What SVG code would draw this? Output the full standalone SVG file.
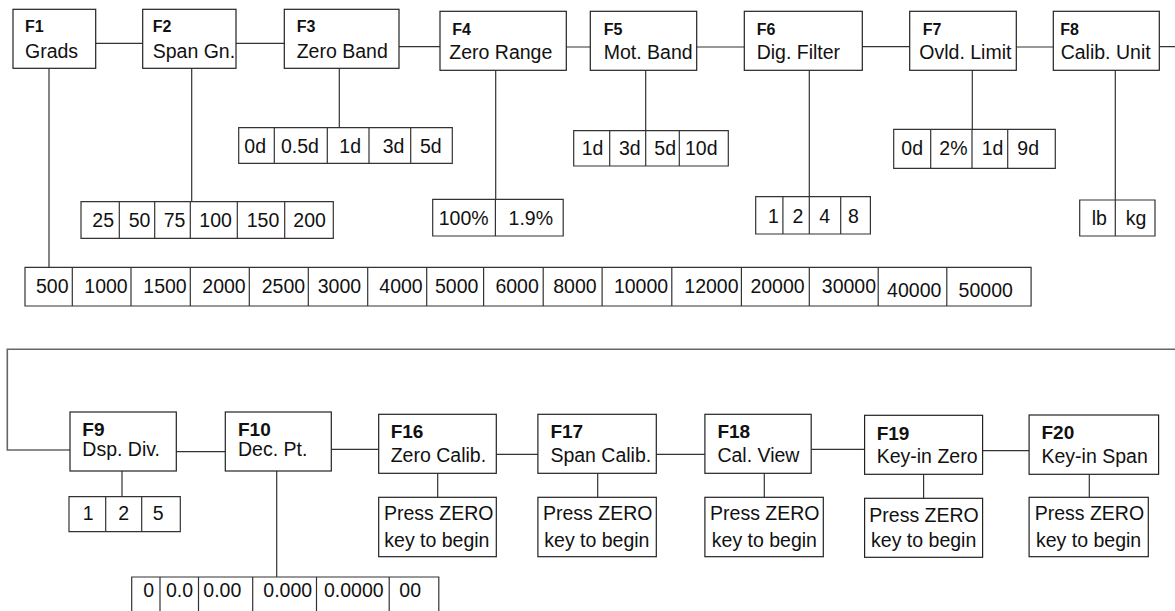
<svg xmlns="http://www.w3.org/2000/svg" width="1175" height="611" viewBox="0 0 1175 611">
<style>
.bg{fill:#fff}
.box{fill:#fff;stroke:#222;stroke-width:1.2}
.cell{fill:none;stroke:#333;stroke-width:1.2}
.ln{fill:none;stroke:#333;stroke-width:1.2}
.rl{fill:none;stroke:#666;stroke-width:1.6}
text{font-family:"Liberation Sans",Arial,sans-serif;fill:#111}
.fl{font-size:16px;font-weight:bold}
.fb{font-size:19px;font-weight:bold}
.nm{font-size:19.5px}
.op{font-size:19.5px}
</style>
<rect class="bg" x="0" y="0" width="1175" height="611"/>
<g id="connectors">
<path class="ln" d="M95.7 43.3H142.7M236 43.3H284.3M399 46.7H440M566.3 47H590.3M696.7 47H744.3M862.3 46.7H909.7M1016.3 47H1053.3M1159.3 46.7H1175"/>
<path class="ln" d="M49 68.3V267.3M191.7 68.3V201.7M339.3 68.3V127.7M495.7 70.3V199.3M645.7 70.3V130.7M809.3 70.3V196.7M972.3 70.3V129.3M1115.3 70.3V200"/>
<path class="rl" d="M1175 349.3H7.3V450H70"/>
<path class="ln" d="M176.3 451.7H225.3M331.3 449.3H378.7M496.3 454.3H537.9M656.3 454.3H704.9M811.2 449.3H864.6M982.6 450.7H1029.1"/>
<path class="ln" d="M122 471V496.7M276.7 471V577M437.7 473.3V497.3M597.7 473.3V497.3M764.3 473.3V497.3M923.6 474.3V498.3M1089.3 474.3V497.3"/>
</g>
<g id="F1"><rect class="box" x="13" y="9.3" width="82.7" height="59"/><text class="fl" x="25" y="32.3">F1</text><text class="nm" x="25" y="57.7">Grads</text></g>
<g id="F2"><rect class="box" x="142.7" y="9.3" width="93.3" height="59"/><text class="fl" x="152.7" y="32.3">F2</text><text class="nm" x="152.7" y="57.7">Span Gn.</text></g>
<g id="F3"><rect class="box" x="284.3" y="9.3" width="114.7" height="59"/><text class="fl" x="296.7" y="32.3">F3</text><text class="nm" x="296.7" y="57.7">Zero Band</text></g>
<g id="F4"><rect class="box" x="440" y="11.3" width="126.3" height="59"/><text class="fl" x="452.3" y="34.7">F4</text><text class="nm" x="449.3" y="59.3">Zero Range</text></g>
<g id="F5"><rect class="box" x="590.3" y="11.3" width="106.4" height="59"/><text class="fl" x="603.7" y="34.7">F5</text><text class="nm" x="603.7" y="59.3">Mot. Band</text></g>
<g id="F6"><rect class="box" x="744.3" y="11.3" width="118" height="59"/><text class="fl" x="756.7" y="34.7">F6</text><text class="nm" x="756.7" y="59.3">Dig. Filter</text></g>
<g id="F7"><rect class="box" x="909.7" y="11.3" width="106.6" height="59"/><text class="fl" x="922.7" y="34.7">F7</text><text class="nm" x="919.3" y="59.3">Ovld. Limit</text></g>
<g id="F8"><rect class="box" x="1053.3" y="11.3" width="106" height="59"/><text class="fl" x="1060.3" y="34.7">F8</text><text class="nm" x="1060.7" y="59.3">Calib. Unit</text></g>

<g id="F1-options">
<path class="cell" d="M25 267.3H1031.1V306H25ZM72.3 267.3V306M131 267.3V306M190.3 267.3V306M249.3 267.3V306M308.3 267.3V306M367.7 267.3V306M426.7 267.3V306M483.6 267.3V306M543.2 267.3V306M602.1 267.3V306M671.8 267.3V306M741.4 267.3V306M809.3 267.3V306M878.2 267.3V306M946.8 267.3V306"/>
<text class="op" y="293.3"><tspan x="36">500</tspan><tspan x="84.3">1000</tspan><tspan x="143.3">1500</tspan><tspan x="202.3">2000</tspan><tspan x="261.7">2500</tspan><tspan x="317.7">3000</tspan><tspan x="379.3">4000</tspan><tspan x="435">5000</tspan><tspan x="495.4">6000</tspan><tspan x="553.2">8000</tspan><tspan x="613.9">10000</tspan><tspan x="684.3">12000</tspan><tspan x="750.4">20000</tspan><tspan x="821.8">30000</tspan></text>
<text class="op" y="297.3"><tspan x="887.1">40000</tspan><tspan x="958.6">50000</tspan></text>
</g>
<g id="F2-options">
<path class="cell" d="M81 201.7H333.3V238.3H81ZM119.3 201.7V238.3M154.7 201.7V238.3M190.3 201.7V238.3M237.3 201.7V238.3M284.7 201.7V238.3"/>
<text class="op" y="226.7"><tspan x="92.3">25</tspan><tspan x="128.7">50</tspan><tspan x="163.7">75</tspan><tspan x="199.3">100</tspan><tspan x="246.7">150</tspan><tspan x="293.3">200</tspan></text>
</g>
<g id="F3-options">
<path class="cell" d="M238.7 127.7H452.3V163.3H238.7ZM274.3 127.7V163.3M327.3 127.7V163.3M369 127.7V163.3M410.7 127.7V163.3"/>
<text class="op" y="152.7"><tspan x="244.3">0d</tspan><tspan x="281">0.5d</tspan><tspan x="339.3">1d</tspan><tspan x="382.7">3d</tspan><tspan x="420">5d</tspan></text>
</g>
<g id="F4-options">
<path class="cell" d="M432.7 199.3H563.2V236H432.7ZM495.4 199.3V236"/>
<text class="op" y="225"><tspan x="438.7">100%</tspan><tspan x="508.6">1.9%</tspan></text>
</g>
<g id="F5-options">
<path class="cell" d="M573.7 130.7H728.3V166H573.7ZM609.7 130.7V166M645.7 130.7V166M679.3 130.7V166"/>
<text class="op" y="155"><tspan x="581.7">1d</tspan><tspan x="619">3d</tspan><tspan x="654.3">5d</tspan><tspan x="685">10d</tspan></text>
</g>
<g id="F6-options">
<path class="cell" d="M755.7 196.7H870.4V234H755.7ZM782.9 196.7V234M809.3 196.7V234M840.7 196.7V234"/>
<text class="op" y="223.3"><tspan x="767.9">1</tspan><tspan x="792.5">2</tspan><tspan x="819.3">4</tspan><tspan x="847.9">8</tspan></text>
</g>
<g id="F7-options">
<path class="cell" d="M893.7 129.3H1055.3V168.3H893.7ZM930.7 129.3V168.3M972 129.3V168.3M1007.7 129.3V168.3"/>
<text class="op" y="155"><tspan x="901.3">0d</tspan><tspan x="939.3">2%</tspan><tspan x="981.7">1d</tspan><tspan x="1017.3">9d</tspan></text>
</g>
<g id="F8-options">
<path class="cell" d="M1079.7 200H1155V236H1079.7ZM1115.3 200V236"/>
<text class="op" y="225"><tspan x="1091.7">lb</tspan><tspan x="1125.7">kg</tspan></text>
</g>

<g id="F9"><rect class="box" x="70" y="412" width="106.3" height="59"/><text class="fb" x="82.3" y="436">F9</text><text class="nm" x="82.3" y="455.7">Dsp. Div.</text></g>
<g id="F10"><rect class="box" x="225.3" y="412" width="106" height="59"/><text class="fb" x="238" y="436">F10</text><text class="nm" x="238" y="455.7">Dec. Pt.</text></g>
<g id="F16"><rect class="box" x="378.7" y="414.3" width="117.6" height="59"/><text class="fb" x="390.7" y="438.3">F16</text><text class="nm" x="390.7" y="461.7">Zero Calib.</text></g>
<g id="F17"><rect class="box" x="537.9" y="414.3" width="118.4" height="59"/><text class="fb" x="550.4" y="438.3">F17</text><text class="nm" x="550.4" y="461.7">Span Calib.</text></g>
<g id="F18"><rect class="box" x="704.9" y="414.3" width="106.3" height="59"/><text class="fb" x="717.4" y="438.3">F18</text><text class="nm" x="717.4" y="461.7">Cal. View</text></g>
<g id="F19"><rect class="box" x="864.6" y="415.3" width="118" height="59"/><text class="fb" x="876.7" y="440">F19</text><text class="nm" x="876.7" y="463.3">Key-in Zero</text></g>
<g id="F20"><rect class="box" x="1029.1" y="415" width="129.5" height="59.3"/><text class="fb" x="1041.5" y="439">F20</text><text class="nm" x="1041.5" y="463">Key-in Span</text></g>

<g id="F9-options">
<path class="cell" d="M69 496.7H180.3V531.7H69ZM105.7 496.7V531.7M141.7 496.7V531.7"/>
<text class="op" y="520"><tspan x="82.7">1</tspan><tspan x="118.3">2</tspan><tspan x="152.7">5</tspan></text>
</g>
<g id="F10-options">
<path class="cell" d="M131.7 620V577H438.8V620M160 577V620M198.5 577V620M252.7 577V620M316.5 577V620M389.2 577V620"/>
<text class="op" y="597.3"><tspan x="143.3">0</tspan><tspan x="166">0.0</tspan><tspan x="203.3">0.00</tspan><tspan x="263.3">0.000</tspan><tspan x="324">0.0000</tspan><tspan x="399.3">00</tspan></text>
</g>
<g id="F16-action"><rect class="box" x="378.7" y="497.3" width="117.6" height="59.4"/><text class="nm" x="384" y="520">Press ZERO</text><text class="nm" x="384.3" y="547.3">key to begin</text></g>
<g id="F17-action"><rect class="box" x="537.9" y="497.3" width="118.4" height="59.4"/><text class="nm" x="543" y="520">Press ZERO</text><text class="nm" x="544.3" y="546.7">key to begin</text></g>
<g id="F18-action"><rect class="box" x="704.9" y="497.3" width="118.4" height="59.4"/><text class="nm" x="710.1" y="520">Press ZERO</text><text class="nm" x="711.8" y="546.7">key to begin</text></g>
<g id="F19-action"><rect class="box" x="864.6" y="498.3" width="118" height="59"/><text class="nm" x="869.3" y="521.7">Press ZERO</text><text class="nm" x="871.1" y="547.3">key to begin</text></g>
<g id="F20-action"><rect class="box" x="1029.1" y="497.3" width="119.2" height="59.4"/><text class="nm" x="1034.7" y="520">Press ZERO</text><text class="nm" x="1036" y="546.7">key to begin</text></g>
</svg>
